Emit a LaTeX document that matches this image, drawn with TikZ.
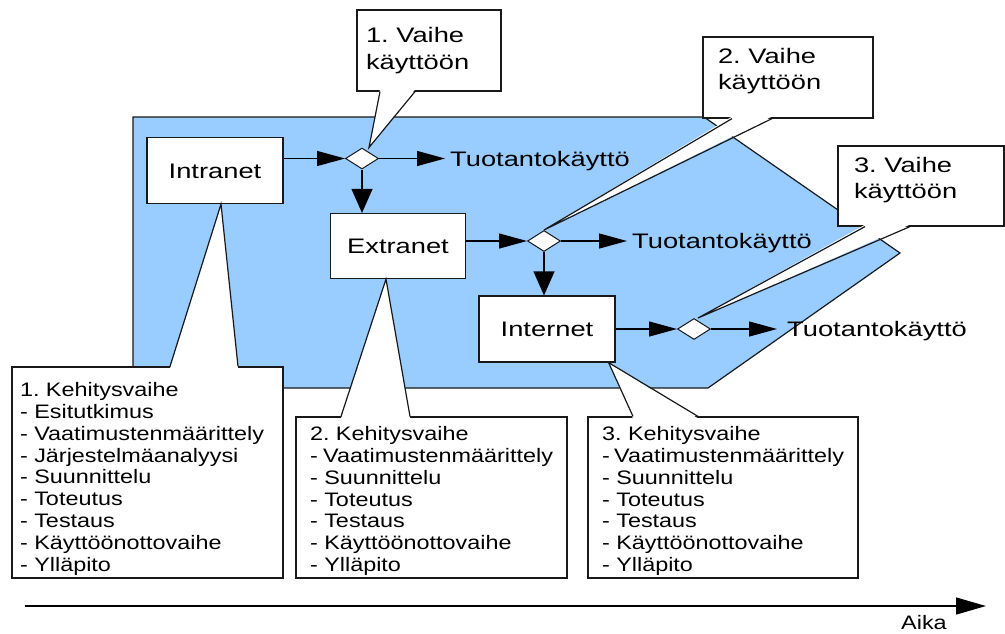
\documentclass[tikz,border=0pt]{standalone}
\usepackage{fontspec}
\setmainfont{Liberation Sans}
\newfontfamily\boxfont{Liberation Sans}[FakeStretch=1.3]
\newfontfamily\listfont{Liberation Sans}[FakeStretch=1.2]
\usetikzlibrary{arrows.meta,positioning,shapes.geometric}
\definecolor{phaseblue}{RGB}{153,204,255}
\definecolor{edge}{RGB}{25,25,25}
\frenchspacing
\hfuzz=20pt

\begin{document}
\begin{tikzpicture}[
            x=1pt,y=-1pt,
            net/.style={draw=edge,line width=1.2pt,fill=white,minimum width=136pt,minimum height=66pt,
                        font=\boxfont\fontsize{21}{26.5}\selectfont,text height=15pt,text depth=0pt},
            gate/.style={diamond,draw=edge,line width=1pt,fill=white,
                         minimum width=33pt,minimum height=21pt,inner sep=0pt},
            lab/.style={font=\boxfont\fontsize{21}{26.5}\selectfont,inner xsep=5pt,text height=15pt,text depth=0pt},
            note/.style={draw=edge,line width=1.2pt,fill=white,inner ysep=0pt,
                         font=\boxfont\fontsize{21}{26.5}\selectfont},
            list/.style={note,font=\listfont\fontsize{19.5}{21.8}\selectfont},
            line/.style={-{Triangle[length=28pt,width=15pt]},line width=1.2pt,draw=black},
            vline/.style={-{Triangle[length=24pt,width=21pt]},line width=1.2pt,draw=black},
            tail/.style={draw=edge,line width=1.2pt}
        ]
        \useasboundingbox (0,0) rectangle (1005,633);
        % background area
        \draw[draw=edge,line width=1.2pt,fill=phaseblue]
            (133,117) -- (704,117) -- (900,253) -- (708,388) -- (133,388) -- cycle;
        % nets
        \node[net] (intranet) at (215,170.5) {Intranet};
        \node[net,minimum width=135pt,minimum height=65pt] (extranet) at (398,246) {Extranet};
        \node[net] (internet) at (547,329) {Internet};
        \node[gate] (d1) at (362,158.5) {};
        \node[gate] (d2) at (544,241) {};
        \node[gate] (d3) at (694,329) {};
        \node[lab,right=66pt of d1] (prod1) {Tuotantokäyttö};
        \node[lab,right=66pt of d2] (prod2) {Tuotantokäyttö};
        \node[lab,right=71pt of d3] (prod3) {Tuotantokäyttö};
        % flow
        \draw[line] (intranet.east |- d1) -- (d1.west);
        \draw[line] (d1) -- (prod1);
        \draw[vline] (d1) -- (d1 |- extranet.north);
        \draw[line] (extranet.east |- d2) -- (d2.west);
        \draw[line] (d2) -- (prod2);
        \draw[vline] (d2) -- (d2 |- internet.north);
        \draw[line] (internet.east |- d3) -- (d3.west);
        \draw[line] (d3) -- ([xshift=-5pt]prod3.west);
        % deployment callouts
        \node[note,inner xsep=9pt] (phase1) at (429,50.5)
            {\parbox[c][81pt][t]{126pt}{\rule{0pt}{32.5pt}1. Vaihe\\käyttöön}};
        \node[note,inner xsep=15pt] (phase2) at (788,77.5)
            {\parbox[c][81pt][t]{140pt}{\rule{0pt}{26.3pt}2. Vaihe\\käyttöön}};
        \node[note,inner xsep=16pt] (phase3) at (921,186)
            {\parbox[c][80pt][t]{134pt}{\rule{0pt}{26.3pt}3. Vaihe\\käyttöön}};
        % development callouts
        \node[list,inner xsep=8pt] (dev1) at (147.5,472.5)
            {\parbox[c][211pt][t]{255pt}{\rule{0pt}{29.7pt}1. Kehitysvaihe\\- Esitutkimus\\- Vaatimustenmäärittely\\
            - Järjestelmäanalyysi\\- Suunnittelu\\- Toteutus\\- Testaus\\- Käyttöönottovaihe\\- Ylläpito}};
        \node[list,inner xsep=14pt] (dev2) at (431.5,497.5)
            {\parbox[c][161pt][t]{243pt}{\rule{0pt}{23.7pt}2. Kehitysvaihe\\- Vaatimustenmäärittely\\- Suunnittelu\\
            - Toteutus\\- Testaus\\- Käyttöönottovaihe\\- Ylläpito}};
        \node[list,inner xsep=14pt] (dev3) at (723,497.5)
            {\parbox[c][161pt][t]{242pt}{\rule{0pt}{23.7pt}3. Kehitysvaihe\\- Vaatimustenmäärittely\\- Suunnittelu\\
            - Toteutus\\- Testaus\\- Käyttöönottovaihe\\- Ylläpito}};
        % tails
        \fill[white] ([xshift=-49pt,yshift=2pt]phase1.south) -- ([xshift=7pt]d1.north) -- ([xshift=-14pt,yshift=2pt]phase1.south) -- cycle;
        \draw[tail] ([xshift=-49pt]phase1.south) -- ([xshift=7pt]d1.north) -- ([xshift=-14pt]phase1.south);
        \fill[white] ([xshift=-56pt,yshift=2pt]phase2.south) -- (d2.north) -- ([xshift=-16pt,yshift=2pt]phase2.south) -- cycle;
        \draw[tail] ([xshift=-56pt]phase2.south) -- (d2.north) -- ([xshift=-16pt]phase2.south);
        \fill[white] ([xshift=-56pt,yshift=2pt]phase3.south) -- ([xshift=4pt]d3.north) -- ([xshift=-11pt,yshift=2pt]phase3.south) -- cycle;
        \draw[tail] ([xshift=-56pt]phase3.south) -- ([xshift=4pt]d3.north) -- ([xshift=-11pt]phase3.south);
        \fill[white] ([xshift=22.5pt,yshift=-2pt]dev1.north) -- ([xshift=6pt]intranet.south) -- ([xshift=90.5pt,yshift=-2pt]dev1.north) -- cycle;
        \draw[tail] ([xshift=22.5pt]dev1.north) -- ([xshift=6pt]intranet.south) -- ([xshift=90.5pt]dev1.north);
        \fill[white] ([xshift=-90.5pt,yshift=-2pt]dev2.north) -- ([xshift=-12pt]extranet.south) -- ([xshift=-21.5pt,yshift=-2pt]dev2.north) -- cycle;
        \draw[tail] ([xshift=-90.5pt]dev2.north) -- ([xshift=-12pt]extranet.south) -- ([xshift=-21.5pt]dev2.north);
        \fill[white] ([xshift=-90pt,yshift=-2pt]dev3.north) -- ([xshift=-7pt]internet.south east) -- ([xshift=-25pt,yshift=-2pt]dev3.north) -- cycle;
        \draw[tail] ([xshift=-90pt]dev3.north) -- ([xshift=-7pt]internet.south east) -- ([xshift=-25pt]dev3.north);
        % time axis
        \coordinate (t0) at (25,606);
        \coordinate (t1) at (986,606);
        \draw[-{Triangle[length=30pt,width=17pt]},line width=1.2pt,draw=black] (t0) -- (t1);
        \node[font=\listfont\fontsize{19.5}{21.8}\selectfont,text height=14pt,text depth=0pt] (aika) at (924,622) {Aika};
        \end{tikzpicture}
\end{document}
